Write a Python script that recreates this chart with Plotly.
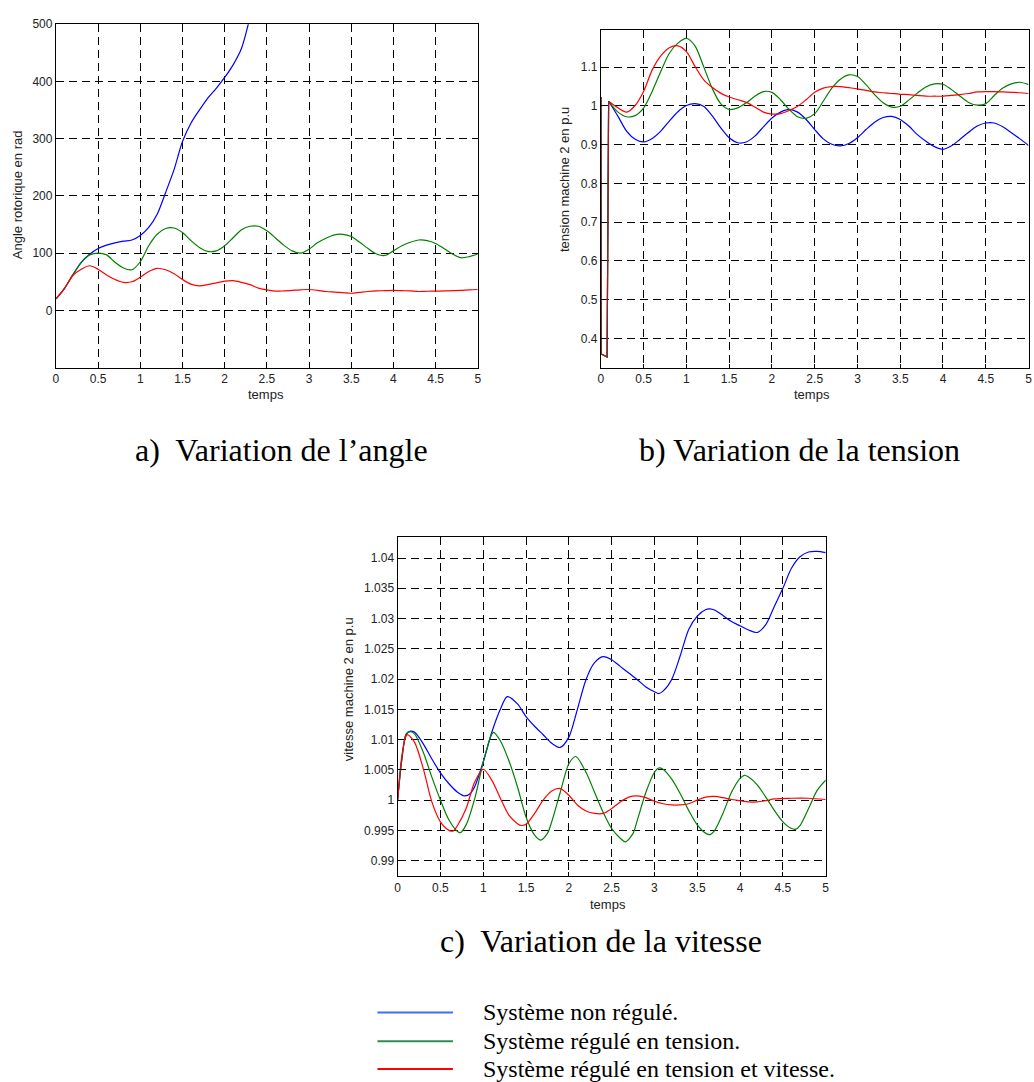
import plotly.graph_objects as go

W, H = 1034, 1082

# ---------------- Data ----------------
# Panel a: angle rotorique (rad)
ta_blue = [0, 0.1, 0.2, 0.3, 0.4, 0.5, 0.6, 0.7, 0.8, 0.9, 1.0, 1.1, 1.2, 1.3, 1.4, 1.5,
           1.6, 1.7, 1.8, 1.9, 2.0, 2.1, 2.2, 2.28, 2.35]
a_blue = [20, 38, 62, 84, 98, 108, 114, 118, 121, 123, 131, 145, 168, 206, 246, 295,
          327, 350, 371, 388, 407, 429, 458, 500, 545]

t_a = [0, 0.1, 0.2, 0.3, 0.4, 0.5, 0.6, 0.7, 0.8, 0.9, 1.0, 1.1, 1.2, 1.3, 1.4, 1.5,
       1.6, 1.7, 1.8, 1.9, 2.0, 2.1, 2.2, 2.3, 2.4, 2.5, 2.6, 2.7, 2.8, 2.9, 3.0,
       3.1, 3.2, 3.3, 3.4, 3.5, 3.6, 3.7, 3.8, 3.9, 4.0, 4.1, 4.2, 4.3, 4.4, 4.5,
       4.6, 4.7, 4.8, 4.9, 5.0]
a_green = [20, 38, 62, 84, 97, 100, 97, 84, 74, 71, 85, 113, 133, 143, 144, 136,
           122, 110, 103, 104, 113, 127, 141, 147, 147, 139, 127, 114, 104, 100, 107,
           118, 126, 132, 133, 129, 119, 108, 98.5, 96, 104, 113, 119, 123, 122, 117,
           108, 98.5, 92, 94, 98.5]
a_red = [20, 38, 61, 72, 78, 72, 62, 54, 49, 50, 58, 68, 73.6, 71, 64, 54,
         46, 43, 45, 48, 51, 52, 49, 45, 39, 36, 33.6, 34, 35, 36, 36.5,
         35, 33, 32, 31, 30, 31.5, 33, 34, 34.5, 35, 34.5, 34, 33, 33.5, 33.6,
         34, 34.5, 35, 36, 36.5]

# Panel b: tension machine 2 (p.u) -- initial fault segment, then response
t_step = [0, 0.003, 0.072, 0.09]
v_step = [1.023, 0.36, 0.352, 1.012]

t_b = [0.09, 0.2, 0.3, 0.4, 0.5, 0.6, 0.7, 0.8, 0.9, 1.0, 1.1, 1.2, 1.3, 1.4, 1.5,
       1.6, 1.7, 1.8, 1.9, 2.0, 2.1, 2.2, 2.3, 2.4, 2.5, 2.6, 2.7, 2.8, 2.9, 3.0,
       3.1, 3.2, 3.3, 3.4, 3.5, 3.6, 3.7, 3.8, 3.9, 4.0, 4.1, 4.2, 4.3, 4.4, 4.5,
       4.6, 4.7, 4.8, 4.9, 5.0]
b_blue = [1.012, 0.973, 0.935, 0.914, 0.907, 0.916, 0.935, 0.961, 0.985, 1.001, 1.006,
          0.999, 0.975, 0.944, 0.918, 0.905, 0.907, 0.922, 0.946, 0.969, 0.984, 0.991,
          0.984, 0.965, 0.939, 0.915, 0.901, 0.897, 0.903, 0.918, 0.939, 0.958, 0.970,
          0.973, 0.965, 0.948, 0.926, 0.909, 0.895, 0.888, 0.897, 0.914, 0.932, 0.948,
          0.956, 0.956, 0.946, 0.931, 0.915, 0.898]
b_green = [1.012, 0.984, 0.972, 0.975, 0.995, 1.038, 1.089, 1.136, 1.162, 1.174, 1.155,
           1.102, 1.046, 1.006, 0.991, 0.995, 1.008, 1.025, 1.037, 1.035, 1.016, 0.991,
           0.972, 0.968, 0.980, 1.012, 1.046, 1.069, 1.080, 1.076, 1.055, 1.029, 1.008,
           0.997, 0.999, 1.015, 1.033, 1.049, 1.057, 1.056, 1.042, 1.025, 1.009, 1.002,
           1.006, 1.027, 1.046, 1.057, 1.061, 1.055]
b_red = [1.012, 0.995, 0.984, 1.001, 1.038, 1.093, 1.129, 1.150, 1.155, 1.140, 1.102,
         1.068, 1.048, 1.033, 1.023, 1.016, 1.009, 0.997, 0.984, 0.979, 0.980, 0.988,
         0.999, 1.016, 1.035, 1.046, 1.050, 1.050, 1.047, 1.044, 1.040, 1.036, 1.034,
         1.032, 1.030, 1.029, 1.027, 1.025, 1.025, 1.025, 1.027, 1.029, 1.032, 1.036,
         1.037, 1.037, 1.036, 1.035, 1.034, 1.032]

# Panel c: vitesse machine 2 (p.u)
tc_blue = [0, 0.05, 0.1, 0.15, 0.2, 0.3, 0.4, 0.5, 0.6, 0.7, 0.78, 0.85, 0.9, 1.0, 1.1,
           1.2, 1.28, 1.4, 1.5, 1.6, 1.7, 1.8, 1.9, 2.0, 2.1, 2.2, 2.3, 2.4, 2.5, 2.6,
           2.7, 2.8, 2.9, 3.0, 3.05, 3.1, 3.2, 3.3, 3.4, 3.5, 3.6, 3.65, 3.7, 3.8, 3.9,
           4.0, 4.1, 4.2, 4.3, 4.4, 4.5, 4.6, 4.7, 4.8, 4.9, 5.0]
c_blue = [1.0, 1.0068, 1.0109, 1.0114, 1.0112, 1.0093, 1.0068, 1.0045, 1.0027, 1.0013,
          1.0007, 1.0011, 1.0022, 1.0063, 1.0112, 1.015, 1.0171, 1.0159, 1.0138, 1.0122,
          1.0108, 1.0094, 1.0087, 1.0104, 1.015, 1.0199, 1.0227, 1.0237, 1.0232, 1.0221,
          1.021, 1.0199, 1.0187, 1.0179, 1.0176, 1.018, 1.0199, 1.0238, 1.0282, 1.0304,
          1.0315, 1.0316, 1.0314, 1.0305, 1.0295, 1.0288, 1.0281, 1.0277, 1.029, 1.032,
          1.035, 1.0383, 1.0402, 1.041, 1.0411, 1.0409]
tc_green = [0, 0.05, 0.1, 0.15, 0.2, 0.3, 0.4, 0.5, 0.6, 0.7, 0.73, 0.8, 0.9, 1.0, 1.1,
            1.12, 1.2, 1.3, 1.4, 1.5, 1.6, 1.67, 1.75, 1.8, 1.9, 2.0, 2.08, 2.2, 2.3,
            2.4, 2.5, 2.6, 2.66, 2.75, 2.8, 2.9, 3.0, 3.05, 3.1, 3.2, 3.3, 3.4, 3.5,
            3.6, 3.65, 3.7, 3.8, 3.9, 4.0, 4.05, 4.1, 4.2, 4.3, 4.4, 4.5, 4.6, 4.65,
            4.7, 4.8, 4.9, 5.0]
c_green = [1.0, 1.0068, 1.0109, 1.0113, 1.0109, 1.0079, 1.0038, 1.0, 0.9967, 0.9948,
           0.9946, 0.9959, 1.0002, 1.0063, 1.0109, 1.0112, 1.0098, 1.0065, 1.0022, 0.9972,
           0.9942, 0.9934, 0.9945, 0.9964, 1.0013, 1.006, 1.0072, 1.0046, 1.0013, 0.998,
           0.9953, 0.9937, 0.9931, 0.9945, 0.9967, 1.0013, 1.0046, 1.0053, 1.0051, 1.0035,
           1.0011, 0.9983, 0.9959, 0.9945, 0.9943, 0.9949, 0.9978, 1.0013, 1.0036, 1.0041,
           1.0038, 1.0025, 1.0005, 0.9983, 0.9964, 0.9953, 0.9952, 0.9958, 0.9986, 1.0016,
           1.0033]
tc_red = [0, 0.05, 0.1, 0.12, 0.2, 0.3, 0.4, 0.5, 0.6, 0.65, 0.7, 0.8, 0.9, 1.0, 1.1,
          1.2, 1.3, 1.4, 1.45, 1.5, 1.6, 1.7, 1.8, 1.9, 2.0, 2.1, 2.2, 2.3, 2.4, 2.5,
          2.6, 2.7, 2.8, 2.9, 3.0, 3.1, 3.2, 3.3, 3.4, 3.5, 3.6, 3.7, 3.8, 3.9, 4.0,
          4.1, 4.2, 4.3, 4.4, 4.6, 4.8, 5.0]
c_red = [1.0, 1.0074, 1.0106, 1.0108, 1.0095, 1.0052, 0.9997, 0.9964, 0.995, 0.9949,
         0.9958, 0.9986, 1.003, 1.0051, 1.0033, 1.0003, 0.9975, 0.9961, 0.9958, 0.996,
         0.9978, 1.0, 1.0015, 1.0019, 1.0008, 0.9992, 0.9982, 0.9978, 0.9978, 0.9986,
         0.9997, 1.0005, 1.0007, 1.0004, 0.9998, 0.9994, 0.9992, 0.9992, 0.9994, 1.0,
         1.0005, 1.0006, 1.0004, 1.0001, 0.9999, 0.9997, 0.9997, 0.9999, 1.0002, 1.0003,
         1.0003, 1.0001]

x_ticks = [0, 0.5, 1, 1.5, 2, 2.5, 3, 3.5, 4, 4.5, 5]
x_ticktext = ["0", "0.5", "1", "1.5", "2", "2.5", "3", "3.5", "4", "4.5", "5"]
ya_ticks = [0, 100, 200, 300, 400, 500]
yb_ticks = [0.4, 0.5, 0.6, 0.7, 0.8, 0.9, 1.0, 1.1]
yb_text = ["0.4", "0.5", "0.6", "0.7", "0.8", "0.9", "1", "1.1"]
yc_ticks = [0.99, 0.995, 1.0, 1.005, 1.01, 1.015, 1.02, 1.025, 1.03, 1.035, 1.04]
yc_text = ["0.99", "0.995", "1", "1.005", "1.01", "1.015", "1.02", "1.025", "1.03", "1.035", "1.04"]

legend_labels = ["Système non régulé.", "Système régulé en tension.",
                 "Système régulé en tension et vitesse."]
captions = ["a)  Variation de l\u2019angle", "b) Variation de la tension",
            "c)  Variation de la vitesse"]

BLUE, GREEN, RED = "#0000ff", "#008000", "#ff0000"
LEG_COLORS = ["#3d6cff", "#2e8b57", "#ff0000"]

# ---------------- Figure ----------------
fig = go.Figure()

def px_x(p):
    return p / W

def px_y(p):
    return 1 - p / H

def add(x, y, color, xa, ya, shape="spline"):
    fig.add_trace(go.Scatter(x=x, y=y, mode="lines", xaxis=xa, yaxis=ya,
                             line=dict(color=color, width=1.2, shape=shape, smoothing=0.8),
                             showlegend=False, hoverinfo="skip"))

# panel a
add(ta_blue, a_blue, BLUE, "x", "y")
add(t_a, a_green, GREEN, "x", "y")
add(t_a, a_red, RED, "x", "y")
# panel b
add(t_step, v_step, BLUE, "x2", "y2", "linear")
add(t_step, v_step, GREEN, "x2", "y2", "linear")
add(t_step, v_step, "#b01515", "x2", "y2", "linear")
add(t_b, b_blue, BLUE, "x2", "y2")
add(t_b, b_green, GREEN, "x2", "y2")
add(t_b, b_red, RED, "x2", "y2")
# panel c
add(tc_blue, c_blue, BLUE, "x3", "y3")
add(tc_green, c_green, GREEN, "x3", "y3")
add(tc_red, c_red, RED, "x3", "y3")

tickfont = dict(family="Liberation Sans, Arial", size=12, color="#222222")
common = dict(showline=True, linecolor="black", linewidth=1.2, mirror=True,
              showgrid=True, gridcolor="black", griddash="8px,5px", gridwidth=1,
              ticks="inside", ticklen=4, tickcolor="black", zeroline=False,
              tickfont=tickfont, fixedrange=True)

def xaxis(domain, anchor):
    return dict(domain=domain, anchor=anchor, range=[0, 5], tickmode="array",
                tickvals=x_ticks, ticktext=x_ticktext, **common)

def yaxis(domain, anchor, rng, tv, tt):
    return dict(domain=domain, anchor=anchor, range=rng, tickmode="array",
                tickvals=tv, ticktext=tt, **common)

fig.update_layout(
    width=W, height=H, margin=dict(l=0, r=0, t=0, b=0),
    paper_bgcolor="white", plot_bgcolor="white", showlegend=False,
    xaxis=xaxis([px_x(53.3), px_x(478)], "y"),
    yaxis=yaxis([px_y(363), px_y(17.3)], "x", [-100, 500], ya_ticks,
                [str(v) for v in ya_ticks]),
    xaxis2=xaxis([px_x(602), px_x(1032.5)], "y2"),
    yaxis2=yaxis([px_y(363.3), px_y(22.7)], "x2", [0.324, 1.197], yb_ticks, yb_text),
    xaxis3=xaxis([px_x(397.3), px_x(828.3)], "y3"),
    yaxis3=yaxis([px_y(875), px_y(533.3)], "x3", [0.9874, 1.0435], yc_ticks, yc_text),
)

ann = []
lab_font = dict(family="Liberation Sans, Arial", size=13, color="#222222")
# axis titles
for (x, y, txt, ang) in [(14.5, 189, "Angle rotorique en rad", -90),
                         (566, 174, "tension machine 2 en p.u", -90),
                         (348, 687, "vitesse machine 2 en p.u", -90),
                         (265, 390, "temps", 0), (815, 390, "temps", 0),
                         (609, 903, "temps", 0)]:
    ann.append(dict(x=px_x(x), y=px_y(y), xref="paper", yref="paper", text=txt,
                    textangle=ang, showarrow=False, xanchor="center", yanchor="middle",
                    font=lab_font))
# captions
cap_font = dict(family="Liberation Serif, Times New Roman", size=32, color="black")
for (x, y), txt in zip([(280, 446), (802, 446), (602, 940)], captions):
    ann.append(dict(x=px_x(x), y=px_y(y), xref="paper", yref="paper", text=txt,
                    showarrow=False, xanchor="center", yanchor="middle", font=cap_font))
# legend
leg_font = dict(family="Liberation Serif, Times New Roman", size=24, color="black")
shapes = []
for i, (ly, txt, col) in enumerate(zip([1012, 1041, 1069], legend_labels, LEG_COLORS)):
    shapes.append(dict(type="line", xref="paper", yref="paper",
                       x0=px_x(377), x1=px_x(453), y0=px_y(ly), y1=px_y(ly),
                       line=dict(color=col, width=2)))
    ann.append(dict(x=px_x(481), y=px_y(ly), xref="paper", yref="paper", text=txt,
                    showarrow=False, xanchor="left", yanchor="middle", font=leg_font))

fig.update_layout(annotations=ann, shapes=shapes)
fig.write_html("out.html", config={"displayModeBar": False},
               post_script="document.body.style.margin='0px';"
                           "document.body.style.padding='0px';"
                           "document.body.style.overflow='hidden';")
